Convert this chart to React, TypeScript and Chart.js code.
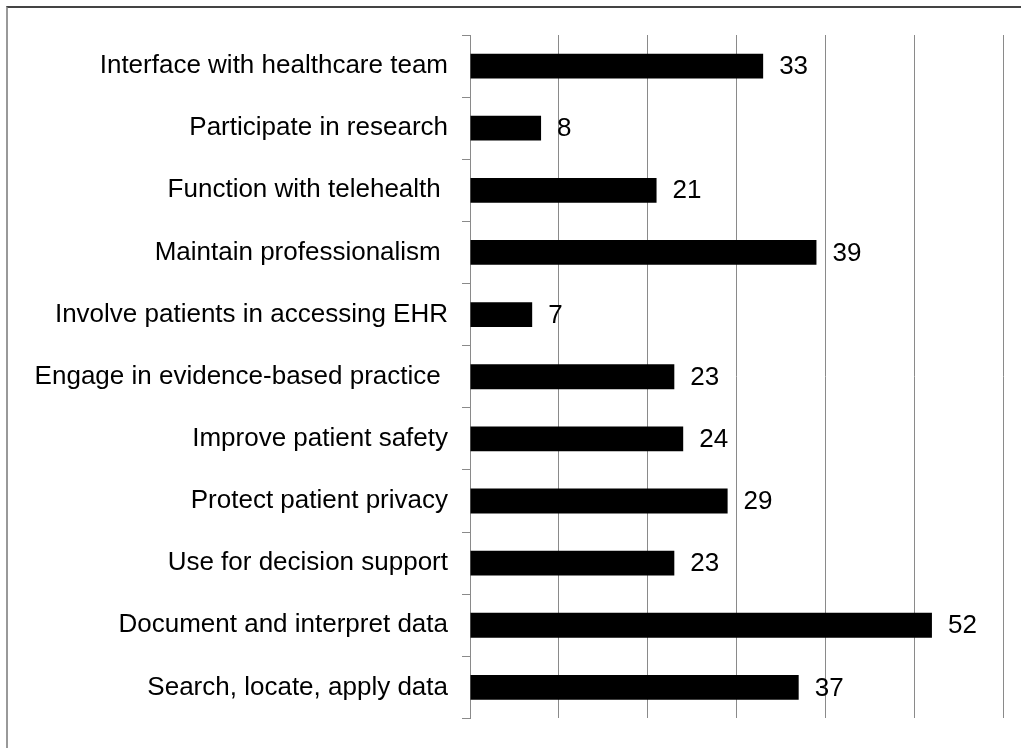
import React, { useEffect, useRef } from "react";
import { Chart, registerables } from "chart.js";

Chart.register(...registerables);

const categories = [
  "Interface with healthcare team",
  "Participate in research",
  "Function with telehealth ",
  "Maintain professionalism ",
  "Involve patients in accessing EHR",
  "Engage in evidence-based practice ",
  "Improve patient safety",
  "Protect patient privacy",
  "Use for decision support",
  "Document and interpret data",
  "Search, locate, apply data",
];

const values = [33, 8, 21, 39, 7, 23, 24, 29, 23, 52, 37];

const xMin = 0;
const xMax = 60;
const xStep = 10;

const FONT = "'Liberation Sans', Arial, sans-serif";

const valueLabels = {
  id: "valueLabels",
  afterDatasetsDraw(chart: any) {
    const ctx = chart.ctx;
    const meta = chart.getDatasetMeta(0);
    ctx.save();
    ctx.font = `26px ${FONT}`;
    ctx.fillStyle = "#000";
    ctx.textAlign = "left";
    ctx.textBaseline = "middle";
    meta.data.forEach((bar: any, i: number) => {
      ctx.fillText(String(values[i]), bar.x + 16, bar.y + 1);
    });
    ctx.restore();
  },
};

export default function App() {
  const ref = useRef<HTMLCanvasElement | null>(null);

  useEffect(() => {
    if (!ref.current) return;
    const chart = new Chart(ref.current, {
      type: "bar",
      data: {
        labels: categories,
        datasets: [
          {
            data: values,
            backgroundColor: "#000",
            borderWidth: 0,
            barPercentage: 0.4,
            categoryPercentage: 1,
          },
        ],
      },
      options: {
        indexAxis: "y",
        responsive: false,
        animation: false,
        layout: { padding: { top: 35, bottom: 28, right: 18, left: 0 } },
        plugins: {
          legend: { display: false },
          tooltip: { enabled: false },
        },
        scales: {
          x: {
            min: xMin,
            max: xMax,
            ticks: { display: false, stepSize: xStep },
            grid: { color: "#8a8a8a", lineWidth: 1, drawTicks: false },
            border: { display: false },
            afterFit: (s: any) => {
              s.height = 0;
            },
          },
          y: {
            ticks: {
              font: { family: FONT, size: 26 },
              color: "#000",
              padding: 14,
              crossAlign: "near",
            },
            grid: {
              drawOnChartArea: false,
              drawTicks: true,
              tickLength: 8,
              color: "#8a8a8a",
              offset: true,
            },
            border: { display: true, color: "#8a8a8a", width: 1 },
            afterFit: (s: any) => {
              s.width = 470;
            },
          },
        },
      },
      plugins: [valueLabels],
    });
    return () => chart.destroy();
  }, []);

  return (
    <div style={{ position: "fixed", left: 0, top: 0, width: 1021, height: 748, background: "#fff" }}>
      <div
        style={{
          position: "absolute",
          left: 6,
          top: 6,
          right: 0,
          bottom: 0,
          borderTop: "2px solid #444",
          borderLeft: "2px solid #999",
        }}
      />
      <canvas ref={ref} width={1021} height={748} style={{ position: "absolute", left: 0, top: 0 }} />
    </div>
  );
}
